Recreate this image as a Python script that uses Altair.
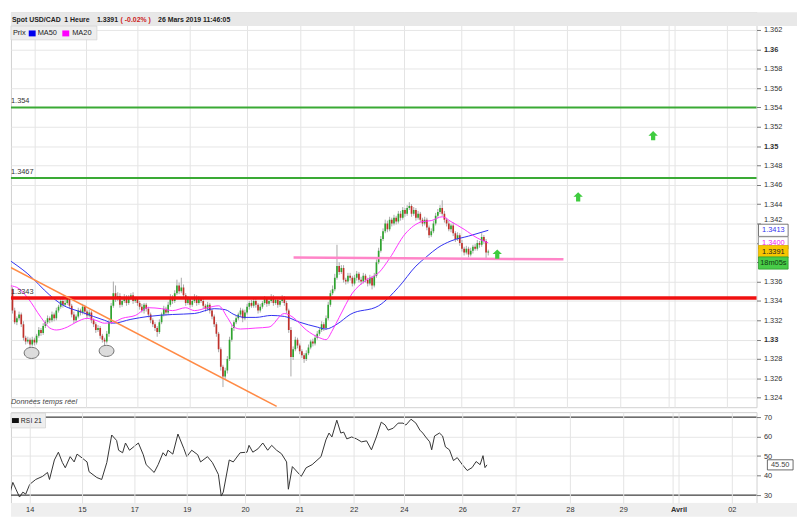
import altair as alt
import pandas as pd

FONT = "Liberation Sans"

# ---------------- data ----------------
first_open = 1.3358
closes = [
    1.3356, 1.3352, 1.3330, 1.3318, 1.3322, 1.3326, 1.3316, 1.3302, 1.3298, 1.3300,
    1.3295, 1.3300, 1.3297, 1.3304, 1.3310, 1.3307, 1.3314, 1.3318, 1.3322, 1.3320,
    1.3326, 1.3322, 1.3330, 1.3334, 1.3340, 1.3336, 1.3338, 1.3342, 1.3335, 1.3326,
    1.3320, 1.3324, 1.3330, 1.3328, 1.3334, 1.3329, 1.3325, 1.3328, 1.3320, 1.3316,
    1.3310, 1.3312, 1.3304, 1.3300, 1.3298, 1.3306, 1.3318, 1.3335, 1.3348, 1.3342,
    1.3345, 1.3336, 1.3340, 1.3344, 1.3338, 1.3343, 1.3346, 1.3340, 1.3342, 1.3338,
    1.3334, 1.3330, 1.3336, 1.3332, 1.3326, 1.3320, 1.3316, 1.3312, 1.3308, 1.3318,
    1.3326, 1.3332, 1.3328, 1.3336, 1.3344, 1.3340, 1.3348, 1.3356, 1.3350, 1.3354,
    1.3346, 1.3338, 1.3342, 1.3336, 1.3340, 1.3344, 1.3338, 1.3342, 1.3340, 1.3335,
    1.3332, 1.3336, 1.3330, 1.3324, 1.3316, 1.3306, 1.3290, 1.3272, 1.3262, 1.3268,
    1.3280, 1.3300, 1.3312, 1.3318, 1.3322, 1.3326, 1.3330, 1.3322, 1.3328, 1.3334,
    1.3338, 1.3335, 1.3340, 1.3336, 1.3330, 1.3334, 1.3338, 1.3342, 1.3337, 1.3340,
    1.3344, 1.3338, 1.3341, 1.3336, 1.3340, 1.3343, 1.3338, 1.3330, 1.3310, 1.3282,
    1.3290, 1.3300, 1.3294, 1.3288, 1.3284, 1.3280, 1.3286, 1.3292, 1.3298, 1.3296,
    1.3302, 1.3306, 1.3310, 1.3316, 1.3312, 1.3322, 1.3336, 1.3348, 1.3352, 1.3364,
    1.3376, 1.3370, 1.3374, 1.3362, 1.3360, 1.3366, 1.3364, 1.3358, 1.3364, 1.3368,
    1.3362, 1.3360, 1.3366, 1.3362, 1.3358, 1.3364, 1.3356, 1.3366, 1.3380, 1.3392,
    1.3404, 1.3412, 1.3420, 1.3414, 1.3424, 1.3420, 1.3426, 1.3422, 1.3430, 1.3426,
    1.3434, 1.3430, 1.3436, 1.3438, 1.3430, 1.3434, 1.3426, 1.3430, 1.3424, 1.3420,
    1.3424, 1.3416, 1.3408, 1.3412, 1.3420, 1.3428, 1.3432, 1.3436, 1.3430, 1.3424,
    1.3420, 1.3414, 1.3418, 1.3410, 1.3404, 1.3408, 1.3400, 1.3394, 1.3390, 1.3394,
    1.3388, 1.3392, 1.3396, 1.3394, 1.3400, 1.3398, 1.3406, 1.3402, 1.3390, 1.3391,
]
# upper / lower wick lengths in pips (0.0001)
wick_up = [
    3, 2, 2, 3, 2, 3, 2, 3, 2, 3,
    2, 3, 2, 2, 3, 2, 3, 2, 3, 2,
    3, 2, 3, 2, 4, 2, 3, 3, 2, 2,
    3, 2, 3, 2, 3, 2, 2, 3, 2, 2,
    2, 3, 2, 2, 2, 3, 2, 3, 12, 8,
    4, 3, 2, 3, 2, 3, 2, 3, 2, 2,
    2, 3, 2, 2, 2, 2, 2, 2, 2, 3,
    2, 3, 2, 3, 3, 2, 3, 6, 3, 10,
    3, 2, 3, 2, 3, 3, 2, 3, 2, 2,
    2, 3, 2, 2, 2, 2, 2, 2, 2, 3,
    3, 3, 3, 2, 3, 2, 3, 2, 3, 3,
    2, 3, 3, 2, 2, 3, 2, 3, 2, 3,
    3, 2, 3, 2, 3, 3, 2, 2, 2, 3,
    3, 3, 2, 2, 2, 2, 3, 3, 2, 3,
    3, 3, 2, 3, 2, 3, 3, 3, 4, 4,
    22, 4, 3, 3, 2, 3, 3, 2, 3, 3,
    2, 3, 3, 2, 2, 3, 2, 3, 3, 3,
    3, 3, 4, 3, 3, 2, 3, 2, 3, 3,
    3, 2, 3, 4, 2, 3, 2, 3, 2, 2,
    3, 2, 2, 3, 3, 3, 3, 3, 8, 3,
    2, 3, 2, 3, 2, 3, 2, 3, 2, 3,
    2, 3, 2, 3, 3, 2, 4, 2, 2, 2,
]
wick_dn = [
    2, 3, 3, 2, 3, 2, 3, 3, 3, 2,
    5, 2, 3, 2, 2, 3, 2, 2, 2, 3,
    2, 3, 2, 2, 2, 3, 2, 2, 3, 3,
    3, 2, 2, 3, 2, 3, 3, 2, 3, 3,
    3, 2, 3, 3, 6, 2, 3, 2, 2, 3,
    2, 3, 2, 2, 3, 2, 2, 3, 2, 3,
    3, 2, 3, 3, 3, 3, 3, 3, 5, 2,
    2, 2, 3, 2, 2, 3, 2, 2, 3, 2,
    3, 3, 2, 3, 2, 2, 3, 2, 2, 3,
    3, 2, 3, 3, 3, 3, 3, 4, 11, 3,
    3, 2, 2, 3, 2, 2, 2, 4, 2, 2,
    3, 2, 2, 3, 3, 2, 2, 2, 3, 2,
    2, 3, 2, 3, 2, 2, 3, 3, 3, 20,
    3, 2, 3, 3, 3, 4, 2, 2, 2, 3,
    2, 2, 2, 2, 3, 2, 2, 2, 2, 2,
    2, 3, 2, 3, 3, 2, 3, 3, 2, 3,
    3, 3, 2, 3, 3, 2, 4, 2, 2, 2,
    2, 2, 2, 3, 2, 3, 2, 3, 2, 3,
    2, 3, 2, 2, 3, 2, 3, 2, 3, 3,
    2, 3, 3, 2, 2, 2, 2, 2, 2, 3,
    3, 2, 3, 3, 3, 2, 3, 3, 3, 2,
    3, 2, 3, 2, 2, 3, 2, 3, 6, 3,
]

ma50_h = [0, 9, 19, 24, 34, 44, 48, 56, 64, 75, 85, 94, 99, 103, 108, 113, 120, 126,
          133, 141, 145, 150, 156, 169, 178, 186, 191, 196, 202, 210, 219]
ma50_v = [1.3383, 1.3368, 1.3346, 1.3337, 1.3328, 1.3320, 1.3317, 1.3321, 1.3324, 1.3326,
          1.3327, 1.3332, 1.3331, 1.3326, 1.3323, 1.3323, 1.3325, 1.3324, 1.3318, 1.3313,
          1.3311, 1.3316, 1.3326, 1.3335, 1.3354, 1.3376, 1.3386, 1.3395, 1.3402, 1.3407, 1.3413]
ma20_h = [0, 4, 9, 15, 19, 22, 27, 31, 36, 40, 44, 48, 52, 58, 64, 70, 75, 81, 85, 91,
          96, 100, 103, 106, 113, 119, 126, 130, 136, 142, 145, 148, 151, 157, 163, 169,
          174, 181, 189, 193, 198, 202, 208, 214, 219]
ma20_v = [1.3356, 1.3354, 1.3343, 1.3323, 1.3312, 1.3310, 1.3313, 1.3318, 1.3322, 1.3320,
          1.3317, 1.3318, 1.3322, 1.3325, 1.3333, 1.3332, 1.3330, 1.3333, 1.3330, 1.3333,
          1.3335, 1.3323, 1.3313, 1.3311, 1.3312, 1.3313, 1.3327, 1.3323, 1.3310, 1.3302,
          1.3300, 1.3310, 1.3323, 1.3348, 1.3361, 1.3369, 1.3384, 1.3409, 1.3422, 1.3423,
          1.3427, 1.3422, 1.3414, 1.3405, 1.3400]

rsi_h = [0, 1.2, 3, 4.4, 5.8, 7.4, 8.9, 10.2, 12, 14.7,
         17.8, 20, 20.9, 23.1, 24.9, 26.7, 28, 30.2, 32, 33.3,
         35.6, 37.8, 38.7, 42.2, 44.4, 46.7, 48.9, 51.1, 52, 53.8,
         55.1, 56.9, 60.9, 63.1, 64.4, 68, 69.8, 72, 73.3, 74.2,
         76.4, 78.7, 81.3, 82.7, 84.9, 87.6, 88.9, 92, 94.2, 96.9,
         98.2, 99.1, 101.8, 103.6, 106.7, 109.8, 110.7, 112.4, 114.7, 116.9,
         119.1, 120.9, 123.1, 125.3, 127.6, 128.4, 130.2, 134.2, 136.4, 139.1,
         143.1, 145.3, 146.7, 148, 150.2, 152, 153.3, 154.7, 156.9, 159.1,
         161.3, 163.6, 165.8, 168, 170.2, 172, 173.3, 175.6, 177.8, 180,
         181.3, 183.6, 185.8, 187.6, 188.9, 190.2, 192, 192.9, 194.2, 196.4,
         197.8, 199.1, 200.9, 202.7, 204.4, 206.7, 208.9, 211.1, 212.9, 214.7,
         216, 216.9, 217.8]
rsi_v = [40.6, 30.5, 30.5, 36.5, 33, 29, 31.5, 30.5, 35.5, 38,
         39.6, 41.6, 38, 48, 52, 46.7, 44, 49.7, 47, 51,
         49, 47, 42, 39, 38, 46.7, 60.8, 58, 53, 51.7,
         56.7, 53, 56.7, 50.7, 45.6, 41.6, 45.6, 51.7, 50, 53,
         51, 61.3, 54, 49.7, 53, 50.7, 47, 49.7, 46.7, 40.6,
         29.5, 31.5, 48, 47, 51.7, 52, 55.5, 52, 53.7, 56.7,
         53, 55.5, 53, 51.2, 47, 33, 44.6, 39.6, 44, 45.6,
         49.7, 58.3, 61.8, 59.8, 68.4, 61.8, 62.3, 58.8, 59.8, 58.8,
         57.3, 57.8, 53.2, 59.8, 67.4, 65.9, 63.3, 64.3, 66.9, 66.9,
         65.9, 68.9, 66.9, 63.3, 61.8, 59.8, 57.3, 53.2, 60.3, 61.8,
         60.3, 54.7, 53.2, 47.7, 49.2, 45.6, 42.6, 44.1, 47.2, 45.6,
         50.2, 44.1, 45.5]

price_ticks = [1.324, 1.326, 1.328, 1.33, 1.332, 1.334, 1.336, 1.338, 1.34, 1.342,
               1.344, 1.346, 1.348, 1.35, 1.352, 1.354, 1.356, 1.358, 1.36, 1.362]
hidden_price_labels = [1.338, 1.34]   # covered by the value boxes
raised_price_label = 1.342            # sits just above the MA50 value box
rsi_ticks = [30, 40, 50, 60, 70]
rsi_levels = [70, 30]
day_pos = [12, 35.5, 59.1, 82.7, 108.9, 133.3, 157.8, 180.4, 206.7, 230.7, 255.1, 279.1, 304, 328]
day_labels = ["14", "15", "17", "19", "20", "21", "22", "24", "26", "27", "28", "29", "Avril", "02"]
month_sep = [301.3]

green_levels = [1.354, 1.3467]
green_labels = ["1.354", "1.3467"]
red_level = [1.3343]
red_labels = ["1.3343"]
pink_h = [130.2, 253.3]
pink_v = [1.33848, 1.33830]
orange_h = [0, 122.5]
orange_v = [1.3376, 1.3231]
circle_h = [10.7, 44.9]
circle_v = [1.32863, 1.32884]
arrow_h = [223.1, 260.0, 294.2]
arrow_v = [1.33884, 1.34476, 1.35108]

last_close = 1.3391
last_ma50 = 1.3413
last_ma20 = 1.3400
timer_label = "18m05s"
last_rsi = 45.50

# ---------------- tables ----------------
opens = [first_open] + closes[:-1]
highs = [round(max(o, c) + u / 10000, 5) for o, c, u in zip(opens, closes, wick_up)]
lows = [round(min(o, c) - d / 10000, 5) for o, c, d in zip(opens, closes, wick_dn)]
direction = ["up" if c > o else ("down" if c < o else "flat") for o, c in zip(opens, closes)]
candles = pd.DataFrame({"h": list(range(len(closes))), "open": opens, "close": closes,
                        "high": highs, "low": lows, "dir": direction})
ma50_df = pd.DataFrame({"h": ma50_h, "v": ma50_v})
ma20_df = pd.DataFrame({"h": ma20_h, "v": ma20_v})
rsi_df = pd.DataFrame({"h": rsi_h, "v": rsi_v})
one = pd.DataFrame({"a": [0]})

W, H_TOP, H_RSI = 755, 400, 92
XS = alt.Scale(domain=[3.556, 339.1], nice=False, zero=False)
YS = alt.Scale(domain=[1.32302, 1.36384], nice=False, zero=False)
RS = alt.Scale(domain=[25.95, 72.53], nice=False, zero=False)

grid_pos = day_pos + month_sep
label_expr = " : ".join(f"datum.value == {p} ? '{l}'" for p, l in zip(day_pos, day_labels)) + " : ''"
price_label_expr = (" || ".join(f"datum.value == {v}" for v in hidden_price_labels)
                    + " ? '' : format(datum.value, '.4~r')")

x_axis_top = alt.Axis(values=grid_pos, labels=False, ticks=False, domain=False,
                      grid=True, gridColor="#e4e4e4")
x_axis_rsi = alt.Axis(values=grid_pos, labelExpr=label_expr, labelFontSize=7.5, labelColor="#333",
                      labelFont=FONT, ticks=False, domain=False, grid=True, gridColor="#e4e4e4",
                      labelPadding=3, labelOverlap=False, labelFlush=False, zindex=1,
                      labelFontWeight={"condition": {"test": "datum.value == 304", "value": "bold"},
                                       "value": "normal"})
y_axis_price = alt.Axis(orient="right", values=price_ticks, labelExpr=price_label_expr,
                        labelFontSize=7.5, labelColor="#333", labelFont=FONT, tickSize=4,
                        tickColor="#777", labelPadding=3, domain=False, grid=True,
                        gridColor="#e6e6e6", labelOverlap=False, labelFlush=False,
                        labelBaseline={"condition": {
                            "test": f"datum.value == {raised_price_label}",
                            "value": "bottom"}, "value": "middle"},
                        labelFontWeight={"condition": {
                            "test": "abs(datum.value*100 - round(datum.value*100)) < 0.01",
                            "value": "bold"}, "value": "normal"})
y_axis_rsi = alt.Axis(orient="right", values=rsi_ticks, labelFontSize=7.5, labelColor="#333",
                      labelFont=FONT, tickSize=4, tickColor="#777", labelPadding=3, domain=False,
                      grid=True, gridColor="#e6e6e6", labelOverlap=False, labelFlush=False)


def XT(f):
    return alt.X(f"{f}:Q", scale=XS, axis=x_axis_top, title=None)


def XR(f):
    return alt.X(f"{f}:Q", scale=XS, axis=x_axis_rsi, title=None)


def YP(f):
    return alt.Y(f"{f}:Q", scale=YS, axis=y_axis_price, title=None)


def YR(f):
    return alt.Y(f"{f}:Q", scale=RS, axis=y_axis_rsi, title=None)


def txt(s, x, y, size=7.5, color="#222", weight="normal", style="normal", align="left"):
    return alt.Chart(one).mark_text(text=s, fontSize=size, color=color, fontWeight=weight,
                                    fontStyle=style, align=align, baseline="middle",
                                    font=FONT).encode(x=alt.value(x), y=alt.value(y))


def box(x, x2, y, y2, fill, stroke=None):
    kw = {"color": fill}
    if stroke:
        kw = {"fill": fill, "stroke": stroke, "strokeWidth": 0.8}
    return alt.Chart(one).mark_rect(**kw).encode(x=alt.value(x), x2=alt.value(x2),
                                                   y=alt.value(y), y2=alt.value(y2))


# ---------------- price panel ----------------
wicks = alt.Chart(candles).mark_rule(color="#a9a9a9", strokeWidth=1, clip=True).encode(
    x=XT("h"), y=YP("low"), y2="high")
bodies = alt.Chart(candles).mark_bar(width=1.7, clip=True).encode(
    x=XT("h"), y=YP("open"), y2="close",
    color=alt.Color("dir:N", scale=alt.Scale(domain=["up", "down", "flat"],
                                             range=["#2fa52f", "#c0302a", "#888888"]), legend=None))
ma50 = alt.Chart(ma50_df).mark_line(color="#3030f0", strokeWidth=1, interpolate="monotone",
                                    clip=True).encode(x=XT("h"), y=YP("v"))
ma20 = alt.Chart(ma20_df).mark_line(color="#ff33ff", strokeWidth=1, interpolate="monotone",
                                    clip=True).encode(x=XT("h"), y=YP("v"))

green_df = pd.DataFrame({"p": green_levels, "label": green_labels})
red_df = pd.DataFrame({"p": red_level, "label": red_labels})
green_rules = alt.Chart(green_df).mark_rule(color="#3aaa35", strokeWidth=2).encode(y=YP("p"))
red_rule = alt.Chart(red_df).mark_rule(color="#f01010", strokeWidth=3.5).encode(y=YP("p"))
level_text = alt.Chart(pd.concat([green_df, red_df])).mark_text(
    align="left", baseline="bottom", dy=-2, fontSize=7.5, color="#333", font=FONT).encode(
    x=alt.value(0), y=YP("p"), text="label:N")

pink = alt.Chart(pd.DataFrame({"h": pink_h, "v": pink_v})).mark_line(
    color="#ff85c8", strokeWidth=2.5).encode(x=XT("h"), y=YP("v"))
orange = alt.Chart(pd.DataFrame({"h": orange_h, "v": orange_v})).mark_line(
    color="#ff8a45", strokeWidth=1.5, clip=True).encode(x=XT("h"), y=YP("v"))
ellipse = "M-1,0A1,0.75,0,1,1,1,0A1,0.75,0,1,1,-1,0Z"
circles = alt.Chart(pd.DataFrame({"h": circle_h, "v": circle_v})).mark_point(
    shape=ellipse, size=225, filled=True, fill="#dcdcdc", stroke="#707070", strokeWidth=1,
    opacity=1).encode(x=XT("h"), y=YP("v"))
arrow = "M0,-1L1,0L0.45,0L0.45,1L-0.45,1L-0.45,0L-1,0Z"
arrows = alt.Chart(pd.DataFrame({"h": arrow_h, "v": arrow_v})).mark_point(
    shape=arrow, size=90, filled=True, color="#3fcc3f", opacity=1).encode(x=XT("h"), y=YP("v"))

boxes_df = pd.DataFrame({
    "p": [last_ma50, last_ma20, last_close, last_close - 0.00118],
    "label": [f"{last_ma50:.4f}", f"{last_ma20:.4f}", f"{last_close:.4f}", timer_label],
    "fill": ["#ffffff", "#ffffff", "#f7c600", "#48cc48"],
    "stroke": ["#555555", "#888888", "#d8a800", "#2c9c2c"],
    "tc": ["#3333ee", "#ee22ee", "#222222", "#103a10"],
})
val_boxes = alt.Chart(boxes_df).transform_calculate(
    lo="datum.p - 0.00063", hi="datum.p + 0.00063").mark_rect().encode(
    x=alt.value(757), x2=alt.value(787), y=YP("lo"), y2="hi:Q",
    fill=alt.Fill("fill:N", scale=None), stroke=alt.Stroke("stroke:N", scale=None),
    strokeWidth=alt.value(0.8))
val_text = alt.Chart(boxes_df).mark_text(fontSize=7.5, font=FONT, align="center",
                                         baseline="middle").encode(
    x=alt.value(772), y=YP("p"), text="label:N", color=alt.Color("tc:N", scale=None))

header = [
    box(0, 796, 0, 14, "#e8e8e8"),
    txt("Spot USD/CAD", 1, 7.5, size=7, weight="bold"),
    txt("1 Heure", 54, 7.5, size=7, weight="bold"),
    txt("1.3391", 87, 7.5, size=7, weight="bold"),
    txt("( -0.02% )", 111, 7.5, size=7, weight="bold", color="#cc2222"),
    txt("26 Mars 2019 11:46:05", 149, 7.5, size=7, weight="bold"),
    box(0, 87, 14, 28, "#eeeeee", "#d4d4d4"),
    txt("Prix", 2, 21.5, size=7.5),
    box(18, 25, 18.5, 24.5, "#0000ee"),
    txt("MA50", 27, 21.5, size=7.5),
    box(52, 59, 18.5, 24.5, "#ff00ff"),
    txt("MA20", 62, 21.5, size=7.5),
    txt("Données temps réel", 0, 395, size=7.5, color="#444", style="italic"),
]

top = alt.layer(
    wicks, bodies, ma50, ma20, green_rules, red_rule, pink, orange, circles, arrows,
    level_text, val_boxes, val_text, *header
).properties(width=W, height=H_TOP)

# ---------------- RSI panel ----------------
rsi_rules = alt.Chart(pd.DataFrame({"v": rsi_levels})).mark_rule(
    color="#444", strokeWidth=1.3).encode(y=YR("v"))
rsi_line = alt.Chart(rsi_df).mark_line(color="#333", strokeWidth=1, clip=True).encode(
    x=XR("h"), y=YR("v"))
rsi_box_df = pd.DataFrame({"p": [last_rsi], "label": [f"{last_rsi:.2f}"]})
rsi_val_box = alt.Chart(rsi_box_df).transform_calculate(
    lo="datum.p - 2.6", hi="datum.p + 2.6").mark_rect(
    fill="#ffffff", stroke="#444", strokeWidth=0.8).encode(
    x=alt.value(766), x2=alt.value(792), y=YR("lo"), y2="hi:Q")
rsi_val_text = alt.Chart(rsi_box_df).mark_text(fontSize=7.5, font=FONT, color="#444",
                                               align="center", baseline="middle").encode(
    x=alt.value(779), y=YR("p"), text="label:N")
rsi_deco = [
    box(0, 35, 1, 16, "#eeeeee", "#d4d4d4"),
    box(1, 8, 6, 11, "#111111"),
    txt("RSI 21", 10, 8.5, size=7),
    box(0, 796, 92, 106, "#efefef"),
]

bottom = alt.layer(
    rsi_rules, rsi_line, rsi_val_box, rsi_val_text, *rsi_deco
).properties(width=W, height=H_RSI)

chart = alt.vconcat(top, bottom, spacing=3).properties(
    padding={"left": 0, "top": 0, "right": 0, "bottom": 0}, background="white"
).configure_view(stroke="#d0d0d0")

chart.save("out.html", embed_options={"renderer": "svg", "actions": False})
